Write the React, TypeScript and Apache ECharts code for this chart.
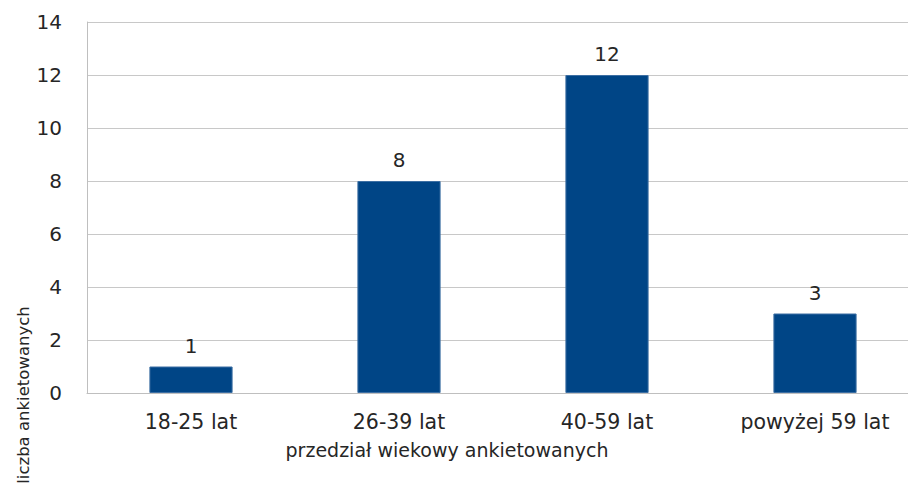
import React, { useEffect, useRef } from "react";
import * as echarts from "echarts";

const categories = ["18-25 lat", "26-39 lat", "40-59 lat", "powyżej 59 lat"];
const values = [1, 8, 12, 3];
const yTitle = "liczba ankietowanych";
const xTitle = "przedział wiekowy ankietowanych";

const FONT = "DejaVu Sans";

export default function App() {
  const ref = useRef<HTMLDivElement>(null);
  useEffect(() => {
    if (!ref.current) return;
    const chart = echarts.init(ref.current, null, { renderer: "svg" });
    chart.setOption({
      animation: false,
      backgroundColor: "#ffffff",
      textStyle: { fontFamily: FONT },
      grid: { left: 87, top: 22, width: 832, bottom: 94, containLabel: false },
      xAxis: {
        type: "category",
        data: categories,
        axisLine: { show: true, lineStyle: { color: "#bfbfbf", width: 1 } },
        axisTick: { show: false },
        axisLabel: { color: "#262626", fontSize: 20.5, fontFamily: FONT, margin: 18 },
      },
      yAxis: {
        type: "value",
        min: 0,
        max: 14,
        interval: 2,
        axisLine: { show: true, lineStyle: { color: "#bfbfbf", width: 1 } },
        axisTick: { show: false },
        splitLine: { lineStyle: { color: "#c8c8c8", width: 1 } },
        axisLabel: { color: "#262626", fontSize: 20, fontFamily: FONT, margin: 25 },
      },
      graphic: [
        {
          type: "text",
          x: 23,
          y: 395,
          rotation: Math.PI / 2,
          style: {
            text: yTitle,
            fontSize: 16.5,
            fontFamily: FONT,
            fill: "#262626",
            align: "center",
            verticalAlign: "middle",
          },
        },
        {
          type: "text",
          x: 447,
          y: 450,
          style: {
            text: xTitle,
            fontSize: 19,
            fontFamily: FONT,
            fill: "#262626",
            align: "center",
            verticalAlign: "middle",
          },
        },
      ],
      series: [
        {
          type: "bar",
          data: values,
          barWidth: "40%",
          itemStyle: { color: "#004586", borderColor: "#3d6fa3", borderWidth: 1 },
          label: {
            show: true,
            position: "top",
            distance: 11,
            color: "#262626",
            fontSize: 20,
            fontFamily: FONT,
          },
        },
      ],
    });
    return () => chart.dispose();
  }, []);
  return (
    <div
      ref={ref}
      style={{ position: "fixed", left: 0, top: 0, width: 940, height: 487 }}
    />
  );
}
